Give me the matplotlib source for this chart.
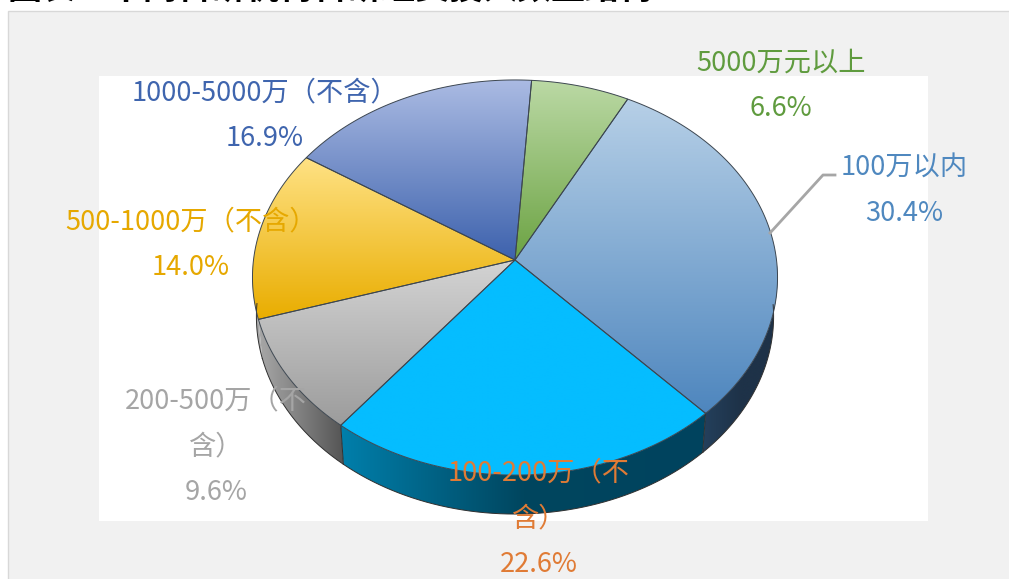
import numpy as np
import matplotlib
matplotlib.use('Agg')
import matplotlib.pyplot as plt
from matplotlib.colors import LinearSegmentedColormap
from matplotlib.patches import Rectangle, Polygon

plt.rcParams['font.family'] = ['Noto Sans CJK SC', 'DejaVu Sans']

W, H = 1009, 579

labels = ['100万以内', '100-200万（不\n含）', '200-500万（不\n含）',
          '500-1000万（不含）', '1000-5000万（不含）', '5000万元以上']
values = [30.4, 22.6, 9.6, 14.0, 16.9, 6.6]
text_colors = ['#4F88BF', '#E07B35', '#A5A5A5', '#E6A800', '#3F65AE', '#5F9B3E']
top_colors = [('#B7D0E7', '#4E86BE'), ('#05BDFF', '#05BDFF'), ('#D4D4D4', '#9C9C9C'),
              ('#FFE285', '#E9AD00'), ('#ABBBE3', '#3D62AD'), ('#BBD9A5', '#6CA343')]
side_colors = [('#24405C', '#1E3248', '#1E3248'), ('#007FAB', '#00465F', '#00435E'),
               ('#A8A8A8', '#808080', '#555555'), ('#A8A8A8', '#A8A8A8', '#A8A8A8'),
               ('#3D62AD', '#3D62AD', '#3D62AD'), ('#6CA343', '#6CA343', '#6CA343')]
label_pos = [(904, 191), (539, 519), (216, 447), (191, 245), (265, 116), (781, 86)]

# pie geometry in pixels, the top face is a circle seen in perspective
cx, cy = 515, 260
A, B, persp = 261.5, 196, 0.0886
depth = 39
start = 62.3


def project(t):
    u, v = np.cos(t), np.sin(t)
    d = 1 + persp * v
    return cx + A * u / d, cy - B * v / d


def gradient(ax, poly, colors, horizontal=False):
    cmap = LinearSegmentedColormap.from_list('g', list(colors))
    x0, y0 = poly.min(axis=0)
    x1, y1 = poly.max(axis=0)
    g = np.linspace(0, 1, 256)
    g = g.reshape(1, -1) if horizontal else g.reshape(-1, 1)
    im = ax.imshow(g, cmap=cmap, vmin=0, vmax=1, extent=(x0, x1, y1, y0),
                   aspect='auto', zorder=3, interpolation='bilinear')
    im.set_clip_path(Polygon(poly, closed=True, transform=ax.transData))


fig = plt.figure(figsize=(W / 100, H / 100), dpi=100)
ax = fig.add_axes([0, 0, 1, 1])
ax.set_xlim(0, W)
ax.set_ylim(H, 0)
ax.axis('off')

# title is cropped by the top edge in the reference too
ax.text(8, -1, '图表：不同科研机构科研经费投入数量结构', fontsize=24.5, color='black',
        fontweight='bold', va='baseline', ha='left', zorder=1)
ax.add_patch(Rectangle((8, 11), W, H, fc='#F1F1F1', ec='#D8D8D8', lw=1, zorder=1))
ax.add_patch(Rectangle((99, 76), 829, 445, fc='white', ec='none', zorder=2))

total = sum(values)
angles = start - np.cumsum([0] + values) * 360 / total

# sides first, only the front part of the rim shows
for i in range(len(values)):
    a0, a1 = angles[i], angles[i + 1]
    t = np.radians(np.linspace(a0, a1, 160))
    t = t[np.sin(t) < -0.02]
    if len(t) < 2:
        continue
    xt, yt = project(t)
    xb = cx + (xt - cx) * 0.985
    yb = yt + depth
    poly = np.column_stack([np.r_[xt, xb[::-1]], np.r_[yt, yb[::-1]]])
    gradient(ax, poly, side_colors[i], horizontal=True)
    ax.plot(xb, yb, color='#303030', lw=0.7, zorder=3.5)
    # seams between the sides, only between the first three slices
    if i < 2:
        ax.plot([xt[-1], xb[-1]], [yt[-1], yb[-1]], color='#303030', lw=0.7, zorder=3.5)

# top face
for i in range(len(values)):
    t = np.radians(np.linspace(angles[i], angles[i + 1], 160))
    x, y = project(t)
    poly = np.column_stack([np.r_[cx, x], np.r_[cy, y]])
    gradient(ax, poly, top_colors[i])
for i in range(len(values)):
    t = np.radians(np.linspace(angles[i], angles[i + 1], 160))
    x, y = project(t)
    poly = np.column_stack([np.r_[cx, x], np.r_[cy, y]])
    ax.add_patch(Polygon(poly, closed=True, fc='none', ec='#3C4650', lw=0.7, zorder=5))

# leader line of the first slice
ax.plot([770, 823, 835], [233, 175, 175], color='#A6A6A6', lw=2, zorder=6)

for name, val, pos, col in zip(labels, values, label_pos, text_colors):
    ax.text(pos[0], pos[1], f'{name}\n{val:.1f}%', color=col, fontsize=19.6, ha='center',
            va='center', linespacing=1.9, zorder=7)

fig.savefig('out.png', dpi=100)
